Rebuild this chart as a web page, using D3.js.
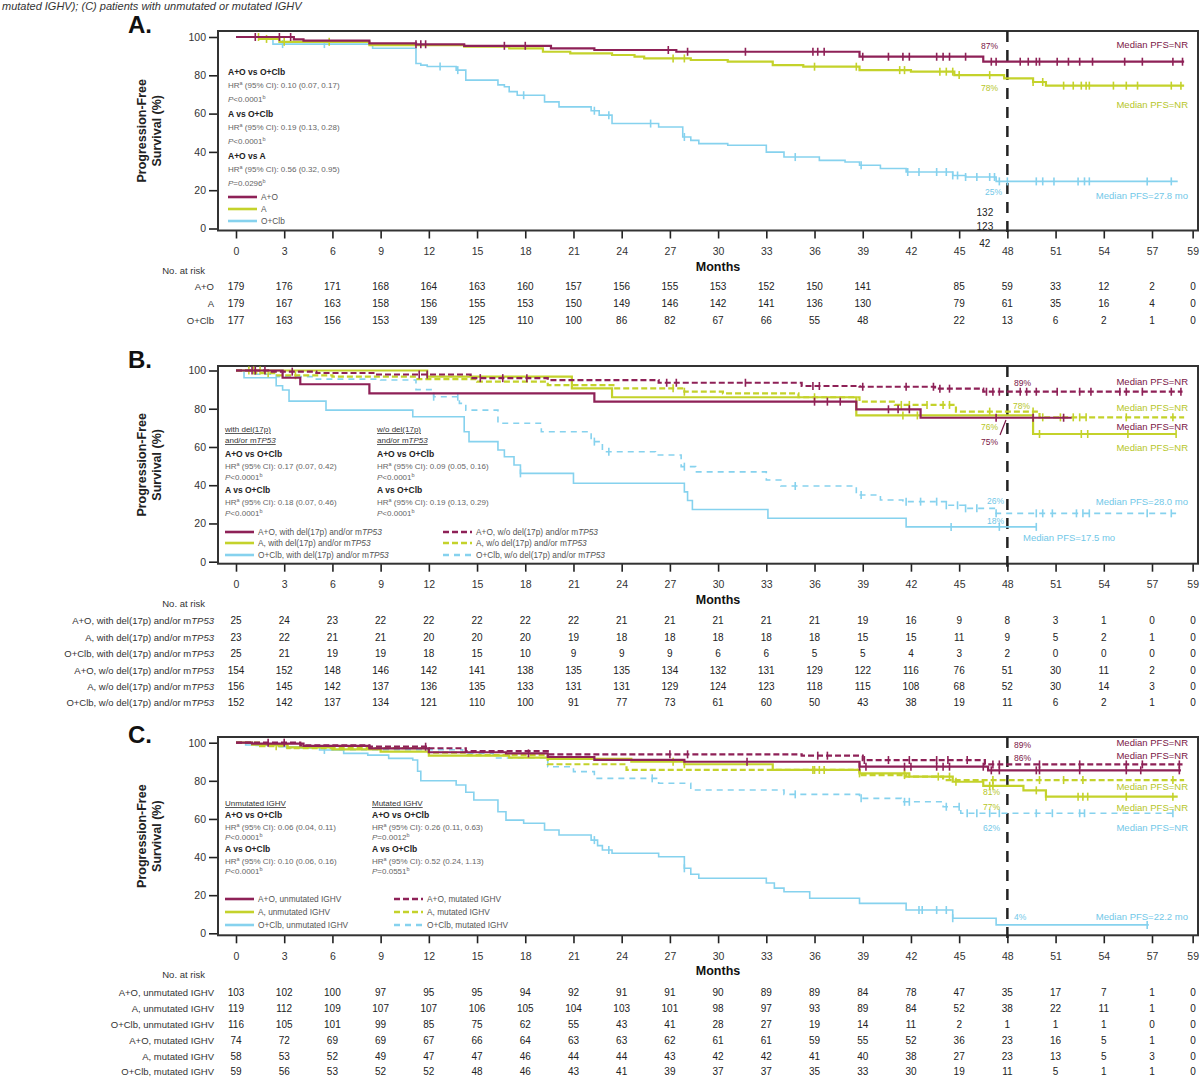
<!DOCTYPE html>
<html>
<head>
<meta charset="utf-8">
<script src="https://cdnjs.cloudflare.com/ajax/libs/d3/7.8.5/d3.min.js"></script>
<style>
  body { margin: 0; background: #fff; }
  svg { font-family: "Liberation Sans", Arial, sans-serif; }
</style>
</head>
<body>
<div class="canvas"></div>
<script>
// ---------- data ----------
const monthTicks = [0,3,6,9,12,15,18,21,24,27,30,33,36,39,42,45,48,51,54,57,59];
const yTicks = [0,20,40,60,80,100];

// Panel A: step points [month, % PFS], last month drawn, censor months
const aAO = [[0,100],[3.6,98.8],[4.2,98.1],[8.3,96.7],[11.2,96.2],[14.2,95.4],[19.6,94.1],[22.3,93.2],[27.4,92.3],[38.8,89.7],[46.5,87.1]];
const aAOEnd = 59;
const aAOCens = [1.2,2.7,3.4,11.2,11.5,11.8,16.7,18,26.9,28.1,31.7,35.9,36.2,36.6,39,40.6,41.5,41.9,43.6,44,44.4,45.4,47,47.3,48.8,49.3,49.8,50,51.1,51.8,52.5,53.3,55.3,56.4,58.3,58.9];
const aA = [[0,100],[1.5,99],[2.7,97.5],[8.3,95.8],[14.2,94.9],[17,94.1],[19.1,92.3],[20.8,91.4],[23.4,90.6],[24.8,89.7],[25.4,88.8],[28.3,88],[30.6,87.1],[33.4,85.3],[35.3,84.5],[38.8,82.7],[42,81.9],[44.7,80.1],[47.8,78.4],[49.6,76.5],[50.4,74.6]];
const aAEnd = 59;
const aACens = [1.4,1.9,3,5.8,27.2,27.9,36,38.6,41.3,41.6,43.8,44.2,44.6,45,46.9,49.6,50.2,51.5,52.1,52.6,52.9,53.1,54.6,55.4,56.1,58.2,58.8];
const aOC = [[0,100],[1.5,99],[2.3,96.3],[8.5,94.1],[11.2,86.2],[11.5,85.3],[11.9,84.6],[13.7,82.7],[14.3,77.5],[16.3,75],[16.7,74],[17,71.5],[17.5,69.6],[19.2,66.1],[20.1,63.5],[22.1,61.5],[22.6,59.2],[23.4,54.8],[26.3,53],[27.8,47.8],[28.3,46],[28.8,44.3],[30.6,43.5],[33,39.9],[34.1,37.3],[36.3,35.6],[37.9,34.7],[38.8,33],[40.1,31.3],[41.7,29.5],[44.6,27.7],[45.4,26.9],[47.3,24.6]];
const aOCEnd = 58.6;
const aOCCens = [2.9,5.5,12.7,13.8,17.9,22.3,23.2,25.8,27.9,34.8,38.9,41.8,42.5,43.6,44.2,44.6,44.9,45.4,46.1,46.9,47.2,47.5,48,49.8,50.2,50.9,52.4,52.8,53.1,56.7,58.2];

// Panel B
const bAOw = [[0,100],[2.9,96.2],[4,92.8],[8.3,88],[22.3,83.7],[38.6,79.7],[42.6,75.3]];
const bAOwEnd = 52;
const bAOwCens = [1.2,36,36.8,37.6,40.6,41.2,41.9,47.3,49.6,51.5];
const bAw = [[0,100],[11.9,96.8],[20.9,90.7],[23.4,86],[38.6,76.5],[49.6,66.8]];
const bAwEnd = 58.5;
const bAwCens = [0.8,1.5,36,41.5,42.4,50,52.6,53,55.5,58.5];
const bOCw = [[0,100],[0.5,96.2],[2.5,92],[2.9,89.8],[3.3,84],[5.6,79.3],[11,75.8],[14.2,68],[14.5,62.8],[16.3,58.4],[16.7,54.9],[17.3,50.6],[17.7,46.2],[21,41],[27.9,36.5],[28.1,32],[28.4,27.3],[33.1,22.7],[41.7,18.2]];
const bOCwEnd = 49.8;
const bOCwCens = [17.7,44.5,47.5,49.8];
const bAOwo = [[0,100],[2,99.4],[5,98.7],[8.7,97.9],[14.6,96],[19.4,95],[26.3,93.6],[35.2,91.9],[38.8,91.5],[43.5,90.5],[46.5,88.9]];
const bAOwoEnd = 58.9;
const bAOwoCens = [1,1.8,3.5,11.4,11.9,15.2,16.6,18.1,26.8,27.4,31.7,35.9,36.3,39,41.7,43.4,43.8,44.4,46.7,47.1,47.5,48.8,49.2,49.8,51.1,52.5,53.2,55,55.4,56.4,58.2,58.8];
const bAwo = [[0,100],[1.2,98.6],[2.5,97.5],[6,96.8],[11.2,95.5],[15,94.2],[19.4,92.4],[23.6,90.7],[27.9,88.9],[30.3,88],[35,86],[38.8,83.7],[41,82],[44.8,78.5],[50,75.5]];
const bAwoEnd = 59;
const bAwoCens = [1.1,2,3.7,27.2,27.9,41.4,41.9,43,44,44.4,46.9,49.6,50.2,51.3,52.1,52.5,52.9,55.4,58.3];
const bOCwo = [[0,100],[1,98],[2.5,96.8],[5,95.5],[9,95],[11.2,90],[12.3,86.3],[13.9,82.8],[14.3,79.3],[16.3,72.4],[19,68],[22.1,62.8],[22.8,57.5],[26.1,55.8],[27.7,49.7],[28.6,47],[33,42.7],[33.9,39.6],[38.6,34.9],[40.1,32.3],[41.5,31.4],[44.2,29.5],[45.4,27.9],[47.3,25.3]];
const bOCwoEnd = 58.5;
const bOCwoCens = [12.3,13.8,22.3,23.2,27.9,34.8,38.9,41.7,42.6,43.6,44.2,44.9,45.4,46.1,47.3,49.8,50.2,50.8,52.3,52.7,53.1,56.7,58.2];

// Panel C
const cAOu = [[0,100],[1,99.5],[4.2,98.3],[8.3,97],[12,95],[16.8,94.4],[19.4,92.5],[22.3,91],[27.9,90],[38.8,87.4],[46.8,85.5]];
const cAOuEnd = 58.8;
const cAOuCens = [18.2,31.8,38.8,39.2,41.6,43.6,42,44,44.4,46.5,47,47.5,49.8,50,52.5,55.4,56.3,58.7];
const cAu = [[0,100],[1,99],[3.2,97.5],[6,96.5],[9,95.3],[12,93.2],[17,92.2],[19.4,91.5],[24.6,90],[27.9,88.7],[33.4,85.7],[38.8,83.9],[41.9,82.2],[44.6,79.5],[46.5,77.4],[49,75],[50.4,71.7]];
const cAuEnd = 58.6;
const cAuCens = [27.2,27.9,35.9,36.3,38.8,41.6,44.4,44.8,46.9,47.1,49.8,50.4,52.4,52.7,53,55.4,58.3];
const cOCu = [[0,100],[0.6,98.8],[2.7,97.9],[5.2,96.2],[6.7,94.4],[8.2,93.5],[9.5,91.8],[11,90.9],[11.3,85],[11.5,80],[13.7,77.8],[14.3,74],[14.8,69.9],[16.3,63.8],[16.8,59.4],[17.9,57.7],[19.2,54.2],[20.1,51.6],[22.1,48.9],[22.5,46],[22.8,43.7],[23.4,42],[26.3,40.2],[27.9,34.1],[28.3,31],[28.8,28.9],[33,26.4],[33.5,23.7],[34.1,21.8],[35.7,18.4],[38.8,15.7],[41.7,12.2],[44.6,7.9],[47.3,4.4]];
const cOCuEnd = 56.8;
const cOCuCens = [5.5,22.3,23.2,27.9,42.7,42.5,43.6,44.2,44.6,56.7];
const cAOm = [[0,100],[4,98.6],[8.3,97.9],[12,97.1],[14.3,95.6],[19.4,93.9],[35.2,93.2],[39,90.9],[46.6,88.6]];
const cAOmEnd = 58.9;
const cAOmCens = [2,3,11.8,27,28.1,36.2,36.8,39.1,40.6,41.9,43.6,44.3,45.5,47.1,47.5,50,52.5,55.4,56.4,58.7];
const cAm = [[0,100],[1.5,98.2],[3.2,97.2],[12,94.8],[14.3,93.5],[19.4,88.7],[24.3,85.7],[38.8,83],[41.7,82.2],[44,80.4]];
const cAmEnd = 59;
const cAmCens = [2.5,36,36.6,41.6,43.7,47.1,50,51.5,52.7,58.3];
const cOCm = [[0,100],[1,98.6],[3,97.3],[6,96.3],[14.1,94.5],[16,92],[19.4,87.4],[21,84.8],[22.3,81.3],[26.3,78.7],[28.3,75.2],[34.1,72.9],[38.8,70.8],[41.4,69],[44,66.4],[45.1,63]];
const cOCmEnd = 58.5;
const cOCmCens = [25.9,34.8,38.9,41.6,41.9,44.2,45,45.5,46.1,46.9,47.5,49.8,50.8,52.5,52.8,58.3];

// Numbers at risk (one value per month tick)
const riskA = [
  [179,176,171,168,164,163,160,157,156,155,153,152,150,141,132,85,59,33,12,2,0],
  [179,167,163,158,156,155,153,150,149,146,142,141,136,130,123,79,61,35,16,4,0],
  [177,163,156,153,139,125,110,100,86,82,67,66,55,48,42,22,13,6,2,1,0]
];
const riskB = [
  [25,24,23,22,22,22,22,22,21,21,21,21,21,19,16,9,8,3,1,0,0],
  [23,22,21,21,20,20,20,19,18,18,18,18,18,15,15,11,9,5,2,1,0],
  [25,21,19,19,18,15,10,9,9,9,6,6,5,5,4,3,2,0,0,0,0],
  [154,152,148,146,142,141,138,135,135,134,132,131,129,122,116,76,51,30,11,2,0],
  [156,145,142,137,136,135,133,131,131,129,124,123,118,115,108,68,52,30,14,3,0],
  [152,142,137,134,121,110,100,91,77,73,61,60,50,43,38,19,11,6,2,1,0]
];
const riskC = [
  [103,102,100,97,95,95,94,92,91,91,90,89,89,84,78,47,35,17,7,1,0],
  [119,112,109,107,107,106,105,104,103,101,98,97,93,89,84,52,38,22,11,1,0],
  [116,105,101,99,85,75,62,55,43,41,28,27,19,14,11,2,1,1,1,0,0],
  [74,72,69,69,67,66,64,63,63,62,61,61,59,55,52,36,23,16,5,1,0],
  [58,53,52,49,47,47,46,44,44,43,42,42,41,40,38,27,23,13,5,3,0],
  [59,56,53,52,52,48,46,43,41,39,37,37,35,33,30,19,11,5,1,1,0]
];
const riskLabelsA = [['A+O'],['A'],['O+Clb']];
const riskLabelsB = [['A+O, with del(17p) and/or m','TP53'],['A, with del(17p) and/or m','TP53'],['O+Clb, with del(17p) and/or m','TP53'],
                     ['A+O, w/o del(17p) and/or m','TP53'],['A, w/o del(17p) and/or m','TP53'],['O+Clb, w/o del(17p) and/or m','TP53']];
const riskLabelsC = [['A+O, unmutated IGHV'],['A, unmutated IGHV'],['O+Clb, unmutated IGHV'],
                     ['A+O, mutated IGHV'],['A, mutated IGHV'],['O+Clb, mutated IGHV']];

// hazard ratio blocks
const statsA = [['A+O vs O+Clb','0.10 (0.07, 0.17)','<0.0001'],['A vs O+Clb','0.19 (0.13, 0.28)','<0.0001'],['A+O vs A','0.56 (0.32, 0.95)','=0.0296']];
const statsBwith = [['A+O vs O+Clb','0.17 (0.07, 0.42)','<0.0001'],['A vs O+Clb','0.18 (0.07, 0.46)','<0.0001']];
const statsBwo = [['A+O vs O+Clb','0.09 (0.05, 0.16)','<0.0001'],['A vs O+Clb','0.19 (0.13, 0.29)','<0.0001']];
const statsCun = [['A+O vs O+Clb','0.06 (0.04, 0.11)','<0.0001'],['A vs O+Clb','0.10 (0.06, 0.16)','<0.0001']];
const statsCmu = [['A+O vs O+Clb','0.26 (0.11, 0.63)','=0.0012'],['A vs O+Clb','0.52 (0.24, 1.13)','=0.0551']];

// ---------- drawing ----------
const colAO = '#8e2157', colA = '#c4d22b', colOC = '#86d2ee';
const txtAO = '#7a1646', txtA = '#b6c628', txtOC = '#72c8e8';

const svg = d3.select('.canvas').append('svg')
  .attr('width', 1203).attr('height', 1077);

// month scale shared by the three panels
const x = d3.scaleLinear().domain([0, 57]).range([236, 1152]);
const frameL = 218, frameR = 1198;

const stepAt = (pts, t) => { let v = pts[0][1]; pts.forEach(p => { if (p[0] <= t) v = p[1]; }); return v; };

// caption line left over at the top of the page
svg.append('text').attr('x', 2).attr('y', 10).attr('font-size', 11).attr('font-style', 'italic')
  .attr('fill', '#333').text('mutated IGHV); (C) patients with unmutated or mutated IGHV');

function drawPanel(p) {
  const g = svg.append('g');
  const y = d3.scaleLinear().domain([0, 100]).range([p.y0, p.y100]);
  const fb = p.y0 + 2;

  g.append('text').attr('x', 128).attr('y', p.titleY).attr('font-size', 24).attr('font-weight', 'bold')
    .attr('fill', '#111').text(p.title);

  // y title (two lines)
  const yt = g.append('text').attr('transform', `translate(146,${(p.top + fb) / 2}) rotate(-90)`)
    .attr('text-anchor', 'middle').attr('font-size', 12.5).attr('font-weight', 'bold').attr('fill', '#222');
  yt.append('tspan').attr('x', 0).attr('y', 0).text('Progression-Free');
  yt.append('tspan').attr('x', 0).attr('y', 15).text('Survival (%)');

  // axes
  g.append('g').attr('transform', `translate(${frameL},0)`)
    .call(d3.axisLeft(y).tickValues(yTicks).tickSize(9).tickPadding(3))
    .call(s => {
      s.select('.domain').remove();
      s.selectAll('line').attr('stroke', '#222').attr('stroke-width', 1.6);
      s.selectAll('text').attr('font-size', 10.5).attr('fill', '#333').attr('font-family', '"Liberation Sans", Arial, sans-serif');
    });
  const xa = g.append('g').attr('transform', `translate(0,${fb})`)
    .call(d3.axisBottom(x).tickValues(monthTicks).tickSize(8).tickPadding(9))
    .call(s => {
      s.select('.domain').remove();
      s.selectAll('line').attr('stroke', '#222').attr('stroke-width', 1.6);
      s.selectAll('text').attr('font-size', 10.5).attr('fill', '#333').attr('font-family', '"Liberation Sans", Arial, sans-serif');
    });
  xa.selectAll('.tick').filter(d => d === 59).attr('transform', `translate(${x(59) + 9},0)`);

  g.append('text').attr('x', 718).attr('y', fb + 40).attr('text-anchor', 'middle')
    .attr('font-size', 12.5).attr('font-weight', 'bold').attr('fill', '#111').text('Months');

  // frame
  g.append('rect').attr('x', frameL).attr('y', p.top).attr('width', frameR - frameL).attr('height', fb - p.top)
    .attr('fill', 'none').attr('stroke', '#333').attr('stroke-width', 2);

  // 48-month marker
  g.append('line').attr('x1', x(48)).attr('x2', x(48)).attr('y1', p.top).attr('y2', fb + 3)
    .attr('stroke', '#222').attr('stroke-width', 2.5).attr('stroke-dasharray', '11,8');

  // curves
  const line = d3.line().x(d => x(d[0])).y(d => y(d[1])).curve(d3.curveStepAfter);
  p.series.forEach(s => {
    const pts = s.pts.concat([[s.end, s.pts[s.pts.length - 1][1]]]);
    g.append('path').datum(pts).attr('d', line).attr('fill', 'none')
      .attr('stroke', s.color).attr('stroke-width', s.w).attr('stroke-dasharray', s.dash || null);
    g.selectAll(null).data(s.cens).enter().append('line')
      .attr('x1', d => x(d)).attr('x2', d => x(d))
      .attr('y1', d => y(stepAt(s.pts, d)) - 4).attr('y2', d => y(stepAt(s.pts, d)) + 4)
      .attr('stroke', s.color).attr('stroke-width', 1.6);
  });

  // stats text
  p.stats.forEach(col => {
    if (col.sub) {
      col.sub.forEach((t, i) => {
        const tx = g.append('text').attr('x', col.x).attr('y', col.subY + i * 11).attr('font-size', 8)
          .attr('fill', '#333').attr('text-decoration', 'underline');
        tx.append('tspan').text(t[0]);
        if (t[1]) tx.append('tspan').attr('font-style', 'italic').text(t[1]);
      });
    }
    col.rows.forEach((r, i) => {
      const by = col.y + i * col.gap;
      g.append('text').attr('x', col.x).attr('y', by).attr('font-size', 8.5).attr('font-weight', 'bold')
        .attr('fill', '#222').text(r[0]);
      const h = g.append('text').attr('x', col.x).attr('y', by + col.d1).attr('font-size', 8).attr('fill', '#666');
      h.append('tspan').text('HR');
      h.append('tspan').attr('font-size', 5.5).attr('dy', -3).text('a');
      h.append('tspan').attr('dy', 3).text(' (95% CI): ' + r[1]);
      const pp = g.append('text').attr('x', col.x).attr('y', by + col.d2).attr('font-size', 8).attr('fill', '#666');
      pp.append('tspan').attr('font-style', 'italic').text('P');
      pp.append('tspan').text(r[2]);
      pp.append('tspan').attr('font-size', 5.5).attr('dy', -3).text('b');
    });
  });

  // legend
  p.legend.forEach(l => {
    g.append('line').attr('x1', l.x).attr('x2', l.x + 29).attr('y1', l.y).attr('y2', l.y)
      .attr('stroke', l.s.color).attr('stroke-width', 2.6).attr('stroke-dasharray', l.s.dash || null);
    const t = g.append('text').attr('x', l.x + 33).attr('y', l.y + 3).attr('font-size', 8.3).attr('fill', '#555');
    t.append('tspan').text(l.label[0]);
    if (l.label[1]) t.append('tspan').attr('font-style', 'italic').text(l.label[1]);
  });

  // annotations
  p.notes.forEach(n => {
    g.append('text').attr('x', n.x).attr('y', n.y).attr('font-size', n.fs || 9.5)
      .attr('text-anchor', n.anchor || 'start').attr('fill', n.c).text(n.t);
  });

  // numbers at risk
  g.append('text').attr('x', 205).attr('y', p.riskTitleY).attr('text-anchor', 'end')
    .attr('font-size', 9.5).attr('fill', '#333').text('No. at risk');
  p.risk.forEach((row, ri) => {
    const ry = p.riskY[ri];
    const lt = g.append('text').attr('x', 214).attr('y', ry).attr('text-anchor', 'end')
      .attr('font-size', 9.5).attr('fill', '#333');
    lt.append('tspan').text(p.riskLabels[ri][0]);
    if (p.riskLabels[ri][1]) lt.append('tspan').attr('font-style', 'italic').text(p.riskLabels[ri][1]);
    row.forEach((v, i) => {
      const m = monthTicks[i];
      let tx = m === 59 ? x(59) + 9 : x(m), ty = ry;
      if (p.shifted42 && m === 42) { tx = x(46.6); ty = p.shifted42[ri]; }
      g.append('text').attr('x', tx).attr('y', ty).attr('text-anchor', 'middle')
        .attr('font-size', 10).attr('fill', '#222').text(v);
    });
  });
}

const sAO = (pts, end, cens, dash) => ({ pts, end, cens, color: colAO, w: 2.2, dash });
const sA = (pts, end, cens, dash) => ({ pts, end, cens, color: colA, w: 2.2, dash });
const sOC = (pts, end, cens, dash) => ({ pts, end, cens, color: colOC, w: 1.6, dash });

// Panel A
const serA = [sOC(aOC, aOCEnd, aOCCens), sA(aA, aAEnd, aACens), sAO(aAO, aAOEnd, aAOCens)];
drawPanel({
  title: 'A.', titleY: 33, top: 31, y0: 228.5, y100: 37,
  series: serA,
  stats: [{ x: 228, y: 75, gap: 42, d1: 13, d2: 27, rows: statsA }],
  legend: [{ x: 228, y: 197, s: serA[2], label: ['A+O'] }, { x: 228, y: 209, s: serA[1], label: ['A'] }, { x: 228, y: 221, s: serA[0], label: ['O+Clb'] }],
  notes: [
    { t: '87%', x: 998, y: 49, c: txtAO, anchor: 'end', fs: 8.5 },
    { t: '78%', x: 998, y: 91, c: txtA, anchor: 'end', fs: 8.5 },
    { t: '25%', x: 1002, y: 195, c: txtOC, anchor: 'end', fs: 8.5 },
    { t: 'Median PFS=NR', x: 1188, y: 48, c: txtAO, anchor: 'end' },
    { t: 'Median PFS=NR', x: 1188, y: 108, c: txtA, anchor: 'end' },
    { t: 'Median PFS=27.8 mo', x: 1188, y: 199, c: txtOC, anchor: 'end' }
  ],
  risk: riskA, riskLabels: riskLabelsA, riskTitleY: 274, riskY: [290, 307, 324],
  shifted42: [216, 230, 247]
});

// Panel B
const serB = [sOC(bOCwo, bOCwoEnd, bOCwoCens, '6,5'), sOC(bOCw, bOCwEnd, bOCwCens),
              sA(bAwo, bAwoEnd, bAwoCens, '6,3'), sA(bAw, bAwEnd, bAwCens),
              sAO(bAOwo, bAOwoEnd, bAOwoCens, '6,3'), sAO(bAOw, bAOwEnd, bAOwCens)];
drawPanel({
  title: 'B.', titleY: 368, top: 366, y0: 561.7, y100: 370.5,
  series: serB,
  stats: [
    { x: 225, y: 457, gap: 36, d1: 12, d2: 23, rows: statsBwith, sub: [['with del(17p)'], ['and/or m', 'TP53']], subY: 432 },
    { x: 377, y: 457, gap: 36, d1: 12, d2: 23, rows: statsBwo, sub: [['w/o del(17p)'], ['and/or m', 'TP53']], subY: 432 }
  ],
  legend: [
    { x: 225, y: 532, s: serB[5], label: ['A+O, with del(17p) and/or m', 'TP53'] },
    { x: 225, y: 543, s: serB[3], label: ['A, with del(17p) and/or m', 'TP53'] },
    { x: 225, y: 555, s: serB[1], label: ['O+Clb, with del(17p) and/or m', 'TP53'] },
    { x: 443, y: 532, s: serB[4], label: ['A+O, w/o del(17p) and/or m', 'TP53'] },
    { x: 443, y: 543, s: serB[2], label: ['A, w/o del(17p) and/or m', 'TP53'] },
    { x: 443, y: 555, s: serB[0], label: ['O+Clb, w/o del(17p) and/or m', 'TP53'] }
  ],
  notes: [
    { t: '89%', x: 1014, y: 386, c: txtAO, fs: 8.5 },
    { t: '78%', x: 1013, y: 409, c: txtA, fs: 8.5 },
    { t: '76%', x: 998, y: 430, c: txtA, anchor: 'end', fs: 8.5 },
    { t: '75%', x: 998, y: 445, c: txtAO, anchor: 'end', fs: 8.5 },
    { t: '26%', x: 1004, y: 504, c: txtOC, anchor: 'end', fs: 8.5 },
    { t: '18%', x: 1004, y: 524, c: txtOC, anchor: 'end', fs: 8.5 },
    { t: 'Median PFS=NR', x: 1188, y: 385, c: txtAO, anchor: 'end' },
    { t: 'Median PFS=NR', x: 1188, y: 411, c: txtA, anchor: 'end' },
    { t: 'Median PFS=NR', x: 1188, y: 430, c: txtAO, anchor: 'end' },
    { t: 'Median PFS=NR', x: 1188, y: 451, c: txtA, anchor: 'end' },
    { t: 'Median PFS=28.0 mo', x: 1188, y: 505, c: txtOC, anchor: 'end' },
    { t: 'Median PFS=17.5 mo', x: 1023, y: 541, c: txtOC }
  ],
  risk: riskB, riskLabels: riskLabelsB, riskTitleY: 607, riskY: [624, 641, 657, 674, 690, 706]
});
svg.append('line').attr('x1', 1000).attr('y1', 435).attr('x2', 1006).attr('y2', 420)
  .attr('stroke', txtAO).attr('stroke-width', 1.2);

// Panel C
const serC = [sOC(cOCm, cOCmEnd, cOCmCens, '6,5'), sOC(cOCu, cOCuEnd, cOCuCens),
              sA(cAm, cAmEnd, cAmCens, '6,3'), sA(cAu, cAuEnd, cAuCens),
              sAO(cAOm, cAOmEnd, cAOmCens, '6,3'), sAO(cAOu, cAOuEnd, cAOuCens)];
drawPanel({
  title: 'C.', titleY: 743, top: 737, y0: 933.3, y100: 742.7,
  series: serC,
  stats: [
    { x: 225, y: 818, gap: 34, d1: 12, d2: 22, rows: statsCun, sub: [['Unmutated IGHV']], subY: 806 },
    { x: 372, y: 818, gap: 34, d1: 12, d2: 22, rows: statsCmu, sub: [['Mutated IGHV']], subY: 806 }
  ],
  legend: [
    { x: 225, y: 899, s: serC[5], label: ['A+O, unmutated IGHV'] },
    { x: 225, y: 912, s: serC[3], label: ['A, unmutated IGHV'] },
    { x: 225, y: 925, s: serC[1], label: ['O+Clb, unmutated IGHV'] },
    { x: 394, y: 899, s: serC[4], label: ['A+O, mutated IGHV'] },
    { x: 394, y: 912, s: serC[2], label: ['A, mutated IGHV'] },
    { x: 394, y: 925, s: serC[0], label: ['O+Clb, mutated IGHV'] }
  ],
  notes: [
    { t: '89%', x: 1014, y: 748, c: txtAO, fs: 8.5 },
    { t: '86%', x: 1014, y: 761, c: txtAO, fs: 8.5 },
    { t: '81%', x: 1000, y: 795, c: txtA, anchor: 'end', fs: 8.5 },
    { t: '77%', x: 1000, y: 810, c: txtA, anchor: 'end', fs: 8.5 },
    { t: '62%', x: 1000, y: 831, c: txtOC, anchor: 'end', fs: 8.5 },
    { t: '4%', x: 1014, y: 920, c: txtOC, fs: 8.5 },
    { t: 'Median PFS=NR', x: 1188, y: 746, c: txtAO, anchor: 'end' },
    { t: 'Median PFS=NR', x: 1188, y: 759, c: txtAO, anchor: 'end' },
    { t: 'Median PFS=NR', x: 1188, y: 790, c: txtA, anchor: 'end' },
    { t: 'Median PFS=NR', x: 1188, y: 811, c: txtA, anchor: 'end' },
    { t: 'Median PFS=NR', x: 1188, y: 831, c: txtOC, anchor: 'end' },
    { t: 'Median PFS=22.2 mo', x: 1188, y: 920, c: txtOC, anchor: 'end' }
  ],
  risk: riskC, riskLabels: riskLabelsC, riskTitleY: 978, riskY: [996, 1012, 1028, 1044, 1060, 1075]
});
</script>
</body>
</html>
